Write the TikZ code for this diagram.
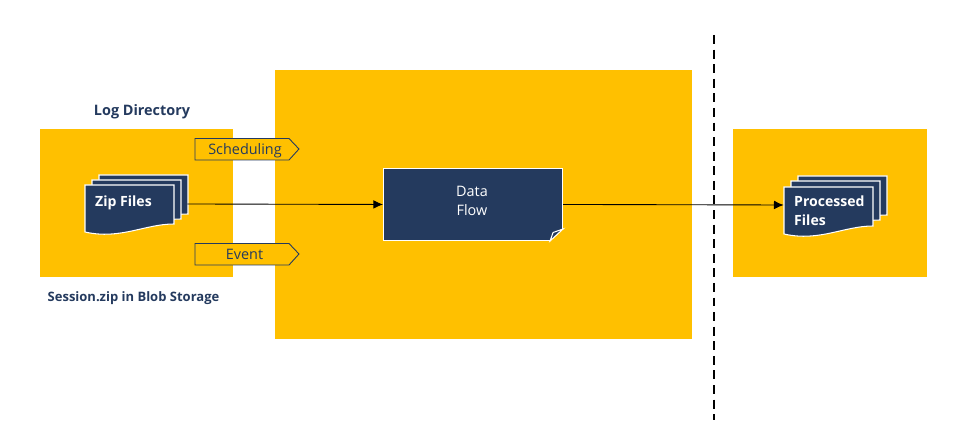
\documentclass[tikz,border=0pt]{standalone}
\usepackage{fontspec}
\setmainfont{Open Sans}
\usetikzlibrary{arrows.meta,calc,positioning}
\definecolor{navyblue}{RGB}{36,58,94}
\definecolor{amber}{RGB}{255,192,0}
\tikzset{
  panel/.style={fill=amber,draw=none,inner sep=0pt,anchor=south west},
  heading/.style={text=navyblue,font=\fontsize{8.2}{10}\selectfont\bfseries},
  tagtext/.style={text=navyblue,font=\fontsize{8.2}{10}\selectfont},
  sheettext/.style={text=white,font=\fontsize{8}{11}\selectfont\bfseries,align=left},
  flow/.style={draw=black,line width=0.5pt,-{Latex[length=5.5pt,width=5pt]}},
  stackbox/.style={draw=none,inner sep=0pt,minimum width=2.04cm,minimum height=1.1cm},
}
% one sheet with a wavy lower edge, #1 is its top left corner
\newcommand{\wavesheet}[1]{
  \draw[fill=navyblue,draw=white,line width=0.6pt,shift={#1}] (0,0) -- (1.78,0) -- (1.78,-0.78)
    .. controls (1.2,-0.78) and (0.7,-1.1) .. (0,-0.94) -- cycle;
}
% tag shape pointing right, #1 is its lower left corner
\newcommand{\tagshape}[1]{
  \draw[fill=amber,draw=navyblue,line width=0.5pt,shift={#1}] (0,0) -- (1.88,0) -- (2.08,0.22) -- (1.88,0.43) -- (0,0.43) -- cycle;
}
\begin{document}
\begin{tikzpicture}
  \useasboundingbox (0,0) rectangle (19.28,8.78);
  % Yellow panels
  \node[panel,minimum width=3.86cm,minimum height=2.96cm] (logpanel) at (0.8,3.24) {};
  \node[panel,minimum width=8.34cm,minimum height=5.38cm] (flowpanel) at (5.5,2) {};
  \node[panel,minimum width=3.88cm,minimum height=2.96cm] (outpanel) at (14.66,3.24) {};
  % Divider
  \draw[line width=1.1pt,dash pattern=on 5.1pt off 3.2pt] (14.28,8.08) -- (14.28,0.38);
  % Panel captions
  \node[heading] (logtitle) at (2.84,6.54) {Log Directory};
  \node[heading,font=\fontsize{7.4}{10}\selectfont\bfseries] (blobtitle) at (2.67,2.82) {Session.zip in Blob Storage};
  % Tags
  \tagshape{(3.9,5.58)}
  \node[tagtext] (schedtag) at (4.9,5.76) {Scheduling};
  \tagshape{(3.9,3.48)}
  \node[tagtext] (eventtag) at (4.89,3.7) {Event};
  % Input stack
  \wavesheet{(1.98,5.28)}
  \wavesheet{(1.84,5.18)}
  \wavesheet{(1.7,5.08)}
  \node[stackbox] (zipstack) at (2.72,4.7) {};
  \node[sheettext,anchor=west] (ziptext) at (1.78,4.72) {Zip Files};
  % Data flow sheet
  \node[fill=navyblue,draw=white,line width=0.6pt,inner sep=0pt,minimum width=3.58cm,minimum height=1.44cm,
    anchor=south west] (dataflow) at (7.66,3.96) {};
  \node[text=white,font=\fontsize{8.2}{11}\selectfont,align=center] (flowtext) at (9.44,4.76) {Data\\Flow};
  \fill[amber] ($(dataflow.south east)+(-0.26,0)$) -- (dataflow.south east) -- ($(dataflow.south east)+(0,0.24)$) -- cycle;
  \draw[white,line width=0.6pt] ($(dataflow.south east)+(-0.26,0)$) -- ($(dataflow.south east)+(0,0.24)$)
    -- ($(dataflow.south east)+(-0.2,0.17)$) -- cycle;
  % Output stack
  \wavesheet{(15.96,5.26)}
  \wavesheet{(15.82,5.16)}
  \wavesheet{(15.68,5.04)}
  \node[stackbox] (procstack) at (16.7,4.68) {};
  \node[sheettext,anchor=west] (proctext) at (15.76,4.56) {Processed\\Files};
  % Connectors
  \draw[flow] (zipstack.east) -- (dataflow.west);
  \draw[flow] (dataflow.east) -- (procstack.west);
\end{tikzpicture}
\end{document}
